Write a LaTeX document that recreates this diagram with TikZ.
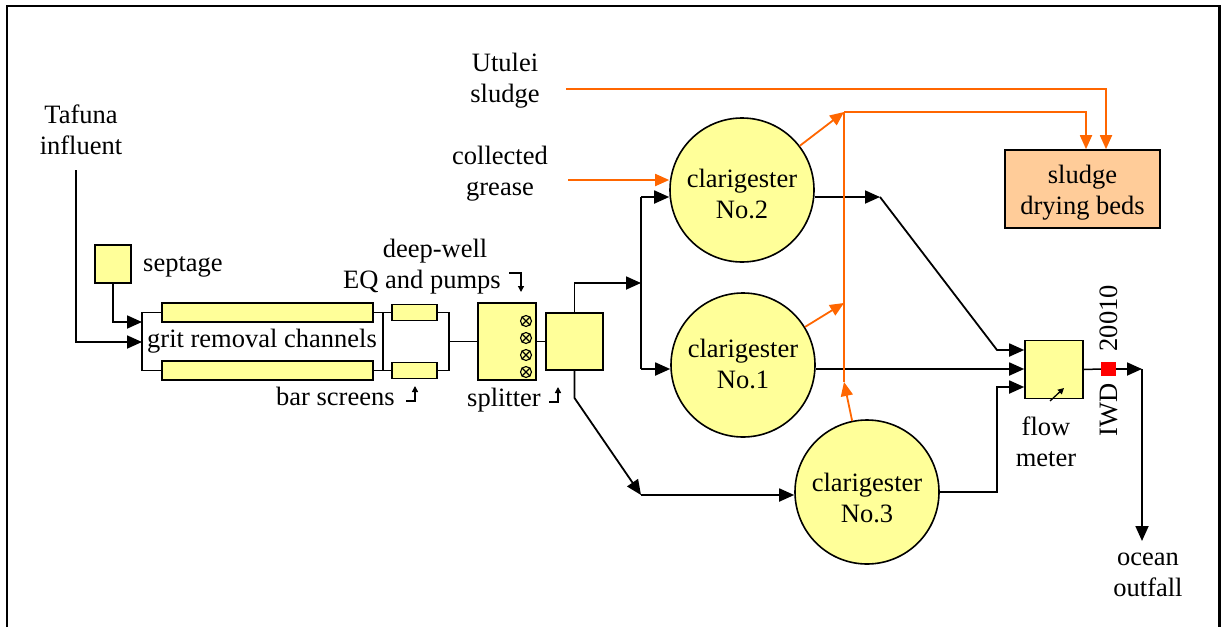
\documentclass[tikz,border=0pt]{standalone}
\usepackage{fontspec}
\setmainfont{Liberation Serif}
\usetikzlibrary{arrows.meta,calc}
\definecolor{yel}{HTML}{FFFF99}
\definecolor{peach}{HTML}{FFCC99}
\definecolor{org}{HTML}{FF6600}
\begin{document}
\begin{tikzpicture}[x=1pt,y=-1pt,
  font=\fontsize{26.5}{31}\selectfont,
  lbl/.style={inner sep=0pt, align=center},
  ybox/.style={draw, fill=yel, line width=1.6pt, inner sep=0pt},
  circ/.style={circle, draw, fill=yel, line width=1.6pt, minimum size=144pt, inner sep=0pt},
  ln/.style={line width=1.8pt},
  flow/.style={ln, -{Triangle[length=15pt,width=13pt]}},
  oflow/.style={ln, org, -{Triangle[length=14pt,width=12pt]}},
  pipe/.style={line width=1.5pt},
  glyph/.style={line width=1.3pt, -{Triangle[length=6pt,width=6pt]}},
  valve/.style={circle, draw, line width=1.1pt, minimum size=11pt, inner sep=0pt},
]
\useasboundingbox (0,0) rectangle (1221,627);
\draw[line width=2.5pt] (7,627) -- (7,6) -- (1219.5,6) -- (1219.5,627);

% labels
\node[lbl] (taf) at (81,130) {Tafuna\\influent};
\node[lbl] (utu) at (505,81) {Utulei\\sludge};
\node[lbl] (grease) at (500,174) {collected\\grease};
\node[lbl, anchor=base west] (septl) at (143,271) {septage};
\node[lbl] (eql) at (435,267) {deep-well\\EQ and pumps\hspace*{26pt}};
\node[lbl, anchor=base west] (barl) at (276,405) {bar screens};
\node[lbl, anchor=base west] (spll) at (467,406) {splitter};
\node[lbl] (fml) at (1046,442) {flow\\meter};
\node[lbl] (ocean) at (1148,575) {ocean\\outfall};

% boxes
\node[ybox, minimum width=36pt, minimum height=38pt] (sep) at (113,264) {};
\node[ybox, minimum width=211pt, minimum height=19pt] (gtop) at (267.5,312.5) {};
\node[ybox, minimum width=211pt, minimum height=19pt] (gbot) at (267.5,370.5) {};
\node[lbl, anchor=base] (gritl) at (262,347) {grit removal channels};
\node[ybox, minimum width=45pt, minimum height=16pt] (eqt) at (414.5,312.5) {};
\node[ybox, minimum width=45pt, minimum height=16pt] (eqb) at (414.5,370.5) {};
\node[ybox, minimum width=58pt, minimum height=77pt] (spl) at (507,341.5) {};
\node[valve] (v1) at (526,321) {};
\node[valve] (v2) at (526,338) {};
\node[valve] (v3) at (526,355) {};
\node[valve] (v4) at (526,372) {};
\foreach \v in {v1,v2,v3,v4}{
  \draw[line width=1.1pt] (\v.north west) -- (\v.south east) (\v.north east) -- (\v.south west);
}
\node[ybox, minimum width=57pt, minimum height=57pt] (box2) at (574.5,341.5) {};
\node[circ] (c2) at (742,190) {};
\node[circ] (c1) at (743,365) {};
\node[circ] (c3) at (867,492) {};
\node[lbl] (c2l) at (742,194) {clarigester\\No.2};
\node[lbl] (c1l) at (743,364) {clarigester\\No.1};
\node[lbl] (c3l) at (867,498) {clarigester\\No.3};
\node[ybox, fill=peach, minimum width=155pt, minimum height=78pt] (beds) at (1082.5,189) {};
\node[lbl] (bedsl) at (1082.5,193) {sludge\\drying beds};
\node[ybox, minimum width=58pt, minimum height=58pt] (fm) at (1054,369.5) {};
\node[fill=red, minimum width=15pt, minimum height=14pt, inner sep=0pt] (iwd) at (1108.5,369) {};
\node[lbl, rotate=90, anchor=base west] (iwdl) at (1117,437) {IWD};
\node[lbl, rotate=90, anchor=base east] (iwdn) at (1117,285) {20010};

% small label arrows
\draw[glyph] (509,273) -| (521,292);
\draw[glyph] (406,401) -| (415,386);
\draw[glyph] (549,402) -| (558,387);
\draw[glyph] (1050,401) -- (1064,388);

% inlet
\coordinate (tafs) at (76,170);
\coordinate (gin1) at (142,322);
\coordinate (gin2) at (142,342);
\draw[flow] (tafs) |- (gin2);
\draw[flow] (sep.south) |- (gin1);
\draw[pipe] (gtop.west) -| (142,370.5) -- (gbot.west);
\coordinate (bl1) at (383,312.5);
\coordinate (bl2) at (383,370.5);
\draw[pipe] (gtop.east) -- (eqt.west);
\draw[pipe] (gbot.east) -- (eqb.west);
\draw[pipe] (bl1) -- (bl2);
\coordinate (br1) at (449,312.5);
\coordinate (br2) at (449,370.5);
\coordinate (brm) at (449,341.5);
\draw[pipe] (eqt.east) -- (br1) -- (br2) -- (eqb.east);
\draw[pipe] (brm) -- (spl.west);
\draw[pipe] (spl.east) -- (box2.west);

% distribution
\coordinate (j1) at (641,283);
\coordinate (j2) at (641,197);
\coordinate (j3) at (641,369);
\coordinate (jb) at (574.5,398);
\coordinate (j4) at (641,495);
\draw[flow] (box2.north) |- (j1);
\draw[ln] (j2) -- (j3);
\draw[flow] (j2) -- ($(c2.west)+(0,7)$);
\draw[flow] (j3) -- ($(c1.west)+(0,4)$);
\draw[flow] (box2.south) -- (jb) -- (j4);
\draw[flow] (j4) -- ($(c3.west)+(0,3)$);

% outputs
\coordinate (k2) at (880,197);
\coordinate (k2b) at (997,350);
\coordinate (k3) at (997,387);
\coordinate (c1out) at ($(c1.east)+(0,4)$);
\draw[flow] ($(c2.east)+(0,7)$) -- (k2);
\draw[flow] (k2) -- (k2b) -- (k2b -| fm.west);
\draw[flow] (c1out) -- (c1out -| fm.west);
\draw[flow] (c3.east) -| (k3) -- (k3 -| fm.west);
\coordinate (out) at (1142,369);
\coordinate (oce) at (1142,541);
\draw[pipe] (fm.east) -- (iwd.west);
\draw[flow] (iwd.east) -- (out);
\draw[flow] (out) -- (oce);

% sludge lines
\coordinate (ut) at (566,89);
\coordinate (gr) at (568,180);
\coordinate (o2) at (844,112);
\coordinate (o1) at (844,303);
\coordinate (o3) at (844,382);
\draw[oflow] (ut) -| ($(beds.north)+(23.5,0)$);
\draw[oflow] (o2) -| ($(beds.north)+(3.5,0)$);
\draw[oflow] (gr) -- (gr -| c2.west);
\draw[oflow] (c2) -- (o2);
\draw[oflow] (c1) -- (o1);
\draw[oflow] (c3) -- (o3);
\draw[ln, org] (o2) -- (o3);
\end{tikzpicture}
\end{document}
